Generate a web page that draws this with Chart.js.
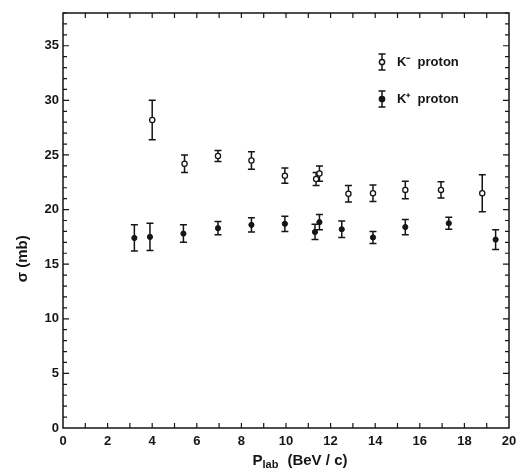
<!DOCTYPE html>
<html>
<head>
<meta charset="utf-8">
<script src="https://cdn.jsdelivr.net/npm/chart.js@4/dist/chart.umd.min.js"></script>
<style>
  html, body { margin: 0; padding: 0; background: #fff; }
  #wrap { width: 518px; height: 469px; }
</style>
</head>
<body>
<div id="wrap"><canvas id="chart"></canvas></div>
<script>
// K- proton (open circles)
const kmX   = [4.0, 5.45, 6.95, 8.45, 9.95, 11.35, 11.5, 12.8, 13.9, 15.35, 16.95, 18.8];
const kmY   = [28.2, 24.2, 24.9, 24.5, 23.1, 22.8, 23.3, 21.45, 21.5, 21.8, 21.8, 21.5];
const kmErr = [1.8, 0.8, 0.5, 0.8, 0.7, 0.6, 0.7, 0.75, 0.75, 0.8, 0.75, 1.7];

// K+ proton (filled circles)
const kpX   = [3.2, 3.9, 5.4, 6.95, 8.45, 9.95, 11.3, 11.5, 12.5, 13.9, 15.35, 17.3, 19.4];
const kpY   = [17.4, 17.5, 17.8, 18.3, 18.6, 18.7, 17.95, 18.85, 18.2, 17.45, 18.4, 18.75, 17.25];
const kpErr = [1.2, 1.25, 0.8, 0.6, 0.65, 0.7, 0.7, 0.7, 0.75, 0.55, 0.7, 0.55, 0.9];

const xMin = 0, xMax = 20, yMin = 0, yMax = 38;
const ink = '#151515';
const font = 'bold 13px "Liberation Sans", Arial, sans-serif';
const titleFont = 'bold 15px "Liberation Sans", Arial, sans-serif';

function toPoints(xs, ys) {
  return xs.map((x, i) => ({ x: x, y: ys[i] }));
}

// error bars drawn under the markers
const errorBars = {
  id: 'errorBars',
  beforeDatasetsDraw(chart) {
    const ctx = chart.ctx;
    const xs = chart.scales.x, ys = chart.scales.y;
    const sets = [[kmX, kmY, kmErr], [kpX, kpY, kpErr]];
    ctx.save();
    ctx.strokeStyle = ink;
    ctx.lineWidth = 1.5;
    sets.forEach(([X, Y, E]) => {
      X.forEach((x, i) => {
        const px = xs.getPixelForValue(x);
        const top = ys.getPixelForValue(Y[i] + E[i]);
        const bot = ys.getPixelForValue(Y[i] - E[i]);
        ctx.beginPath();
        ctx.moveTo(px, top); ctx.lineTo(px, bot);
        ctx.moveTo(px - 3.5, top); ctx.lineTo(px + 3.5, top);
        ctx.moveTo(px - 3.5, bot); ctx.lineTo(px + 3.5, bot);
        ctx.stroke();
      });
    });
    ctx.restore();
  }
};

// frame, inward ticks, axis titles, legend
const frame = {
  id: 'frame',
  afterDraw(chart) {
    const ctx = chart.ctx;
    const a = chart.chartArea;
    const xs = chart.scales.x, ys = chart.scales.y;
    ctx.save();
    ctx.strokeStyle = ink;
    ctx.lineWidth = 1.5;
    ctx.strokeRect(a.left, a.top, a.right - a.left, a.bottom - a.top);
    ctx.lineWidth = 1.2;
    ctx.beginPath();
    for (let v = xMin + 1; v < xMax; v++) {
      const p = xs.getPixelForValue(v);
      ctx.moveTo(p, a.bottom); ctx.lineTo(p, a.bottom - 5);
      ctx.moveTo(p, a.top); ctx.lineTo(p, a.top + 5);
    }
    for (let v = yMin + 1; v <= yMax; v++) {
      const p = ys.getPixelForValue(v);
      const len = v % 5 === 0 ? 6 : 4;
      ctx.moveTo(a.left, p); ctx.lineTo(a.left + len, p);
      ctx.moveTo(a.right, p); ctx.lineTo(a.right - len, p);
    }
    ctx.stroke();

    // y title
    ctx.fillStyle = ink;
    ctx.font = titleFont;
    ctx.textAlign = 'center';
    ctx.textBaseline = 'middle';
    ctx.save();
    ctx.translate(23, ys.getPixelForValue(15.5));
    ctx.rotate(-Math.PI / 2);
    ctx.fillText('σ (mb)', 0, 0);
    ctx.restore();

    // x title with subscript
    ctx.textAlign = 'left';
    ctx.textBaseline = 'alphabetic';
    const tx = xs.getPixelForValue(8.5), ty = 465;
    ctx.fillText('P', tx, ty);
    let w = ctx.measureText('P').width;
    ctx.font = 'bold 11px "Liberation Sans", Arial, sans-serif';
    ctx.fillText('lab', tx + w, ty + 3);
    w += ctx.measureText('lab').width + 9;
    ctx.font = titleFont;
    ctx.fillText('(BeV / c)', tx + w, ty);

    // legend
    ctx.font = font;
    const lx = 382;
    const rows = [[62, 'K⁻  proton', true], [99, 'K⁺  proton', false]];
    rows.forEach(([ly, label, open]) => {
      ctx.lineWidth = 1.5;
      ctx.beginPath();
      ctx.moveTo(lx, ly - 8); ctx.lineTo(lx, ly + 8);
      ctx.moveTo(lx - 3.5, ly - 8); ctx.lineTo(lx + 3.5, ly - 8);
      ctx.moveTo(lx - 3.5, ly + 8); ctx.lineTo(lx + 3.5, ly + 8);
      ctx.stroke();
      ctx.beginPath();
      ctx.arc(lx, ly, 2.6, 0, Math.PI * 2);
      ctx.fillStyle = open ? '#fff' : ink;
      ctx.fill();
      ctx.stroke();
      ctx.fillStyle = ink;
      ctx.textBaseline = 'middle';
      ctx.fillText(label, lx + 15, ly);
    });
    ctx.restore();
  }
};

new Chart(document.getElementById('chart').getContext('2d'), {
  type: 'scatter',
  data: {
    datasets: [
      {
        label: 'K⁻ proton',
        data: toPoints(kmX, kmY),
        pointRadius: 2.6,
        pointBackgroundColor: '#fff',
        pointBorderColor: ink,
        pointBorderWidth: 1.3,
        showLine: false
      },
      {
        label: 'K⁺ proton',
        data: toPoints(kpX, kpY),
        pointRadius: 2.6,
        pointBackgroundColor: ink,
        pointBorderColor: ink,
        pointBorderWidth: 1,
        showLine: false
      }
    ]
  },
  options: {
    responsive: true,
    maintainAspectRatio: false,
    animation: false,
    layout: { padding: { top: 13, right: 0, left: 0, bottom: 0 } },
    plugins: {
      legend: { display: false },
      tooltip: { enabled: false }
    },
    scales: {
      x: {
        type: 'linear',
        min: xMin, max: xMax,
        grid: { display: false, drawTicks: false },
        border: { display: false },
        ticks: {
          stepSize: 1,
          autoSkip: false,
          maxRotation: 0,
          padding: 6,
          color: ink,
          font: { family: '"Liberation Sans", Arial, sans-serif', size: 13, weight: 'bold' },
          callback: v => (v % 2 === 0 ? v : '')
        },
        afterFit: s => { s.height = 41; s.paddingLeft = 0; s.paddingRight = 9; }
      },
      y: {
        type: 'linear',
        min: yMin, max: yMax,
        grid: { display: false, drawTicks: false },
        border: { display: false },
        ticks: {
          stepSize: 1,
          autoSkip: false,
          padding: 4,
          color: ink,
          font: { family: '"Liberation Sans", Arial, sans-serif', size: 13, weight: 'bold' },
          callback: v => (v % 5 === 0 ? v : '')
        },
        afterFit: s => { s.width = 63; s.paddingTop = 0; s.paddingBottom = 0; }
      }
    }
  },
  plugins: [errorBars, frame]
});
</script>
</body>
</html>
